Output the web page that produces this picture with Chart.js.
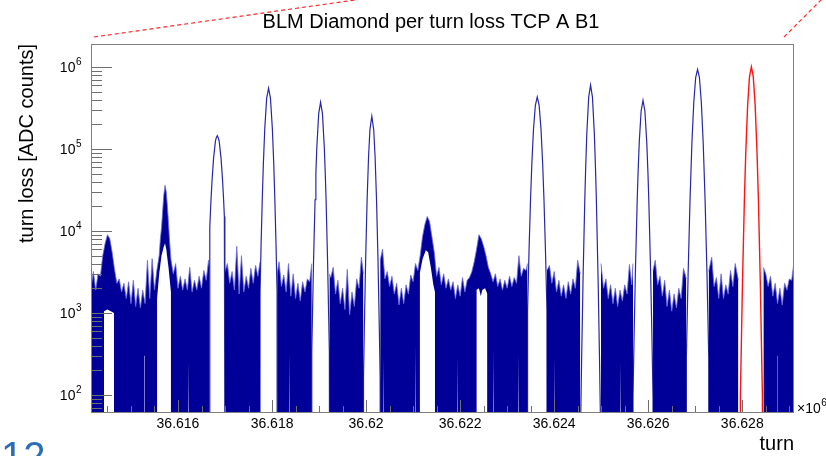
<!DOCTYPE html>
<html>
<head>
<meta charset="utf-8">
<script src="https://cdn.jsdelivr.net/npm/chart.js@4.4.1/dist/chart.umd.min.js"></script>
<style>
  html, body { margin: 0; padding: 0; background: #fff; }
</style>
</head>
<body>
<canvas id="chLoss" width="826" height="456"></canvas>
<script>
/* BLM diamond per turn loss, ROOT style histogram redrawn with chart.js */

// axis ranges and labels
var xMin = 36614150, xMax = 36629100;
var yMin = 62, yMax = 1.9e6;
var xTickStep = 500;
var xLabelTurns = [ 36616000, 36618000, 36620000, 36622000, 36624000, 36626000, 36628000 ];
var xLabels = [ '36.616', '36.618', '36.62', '36.622', '36.624', '36.626', '36.628' ];
var yDecades = [ 1e2, 1e3, 1e4, 1e5, 1e6 ];
var yExponents = [ '2', '3', '4', '5', '6' ];

// noise band (upper envelope of the busy bins), null = empty stretch under a peak
var noiseTurn = [
  36614150, 36614200, 36614250, 36614300, 36614350, 36614400, 36614450, 36614500, 36614550, 36614600, 36614650, 36614700,
  36614750, 36614800, 36614850, 36614900, 36614950, 36615000, 36615050, 36615100, 36615150, 36615200, 36615250, 36615300,
  36615350, 36615400, 36615450, 36615500, 36615550, 36615600, 36615625, 36615650, 36615675, 36615700, 36615725, 36615750,
  36615775, 36615800, 36615825, 36615850, 36615900, 36615950, 36616000, 36616050, 36616100, 36616150, 36616200, 36616250,
  36616300, 36616350, 36616400, 36616450, 36616500, 36616550, 36616600, 36616650, 36616670, 36616671,
  36617000, 36617050, 36617100, 36617150, 36617200, 36617250, 36617300, 36617350, 36617400, 36617450, 36617500, 36617550,
  36617600, 36617650, 36617700, 36617745, 36617746,
  36618110, 36618150, 36618200, 36618250, 36618300, 36618350, 36618400, 36618450, 36618500, 36618550, 36618600, 36618650,
  36618700, 36618750, 36618800, 36618845, 36618846,
  36619220, 36619250, 36619300, 36619350, 36619400, 36619450, 36619500, 36619550, 36619600, 36619650, 36619700, 36619750,
  36619800, 36619850, 36619900, 36619943, 36619944,
  36620300, 36620350, 36620400, 36620450, 36620500, 36620550, 36620600, 36620650, 36620700, 36620750, 36620800, 36620850,
  36620900, 36620950, 36621000, 36621050, 36621100, 36621150, 36621200, 36621250, 36621300, 36621350, 36621400, 36621450,
  36621500, 36621550, 36621600, 36621650, 36621700, 36621750, 36621800, 36621850, 36621900, 36621950, 36622000, 36622050,
  36622100, 36622150, 36622200, 36622250, 36622300, 36622350, 36622400, 36622450, 36622500, 36622550, 36622600, 36622650,
  36622700, 36622750, 36622800, 36622850, 36622900, 36622950, 36623000, 36623050, 36623100, 36623150, 36623200, 36623250,
  36623300, 36623350, 36623400, 36623433, 36623434,
  36623846, 36623900, 36623950, 36624000, 36624050, 36624100, 36624150, 36624200, 36624250, 36624300, 36624350, 36624400,
  36624450, 36624500, 36624555, 36624556,
  36624995, 36625050, 36625100, 36625150, 36625200, 36625250, 36625300, 36625350, 36625400, 36625450, 36625500, 36625550,
  36625600, 36625650, 36625676, 36625677,
  36626102, 36626150, 36626200, 36626250, 36626300, 36626350, 36626400, 36626450, 36626500, 36626550, 36626600, 36626650,
  36626700, 36626750, 36626810, 36626811,
  36627285, 36627350, 36627400, 36627450, 36627500, 36627550, 36627600, 36627650, 36627700, 36627750, 36627800, 36627850,
  36627917, 36627918,
  36628449, 36628500, 36628550, 36628600, 36628650, 36628700, 36628750, 36628800, 36628850, 36628900, 36628950, 36629000,
  36629050, 36629100
];
var noiseLoss = [
  2000, 3200, 1900, 3000, 2800, 5000, 7000, 9000, 8000, 5500, 3400, 2300,
  2600, 1800, 2300, 1500, 2400, 1300, 2500, 1200, 2000, 1150, 1900, 1300,
  4400, 1500, 4600, 1900, 3300, 5000, 8000, 11000, 18000, 28000, 36000, 30000,
  20000, 12000, 7000, 4500, 3000, 4000, 2000, 2800, 1900, 2600, 1900, 3600,
  1800, 2500, 1900, 2800, 2000, 3300, 2500, 4400, 3500, null,
  3200, 4000, 2300, 3200, 1900, 6500, 1700, 5000, 1800, 2800, 2000, 3500,
  2300, 3800, 2800, 4200, null,
  3000, 4200, 2100, 2900, 1800, 4000, 1600, 3000, 1500, 2300, 1400, 2400,
  1800, 2600, 2400, 4000, null,
  3000, 2700, 3600, 1700, 2500, 1300, 2000, 1100, 3400, 950, 1800, 1200,
  2600, 2000, 4800, 3000, null,
  4400, 6000, 2600, 3200, 2100, 2800, 1700, 2300, 1250, 2000, 1300, 2200,
  1700, 2900, 2400, 4000, 3300, 5000, 8500, 12000, 15000, 13000, 8500, 5500,
  2800, 3600, 2200, 3000, 2000, 2600, 1900, 2400, 1500, 2200, 1600, 2700,
  1800, 2500, 2700, 3200, 4200, 6000, 9000, 8000, 6500, 5000, 3600, 3000,
  2400, 3000, 2100, 2600, 1900, 2500, 2000, 2800, 2100, 2700, 2300, 5000,
  2800, 3500, 3300, 4000, null,
  3300, 3800, 2300, 3200, 1800, 2500, 1600, 2200, 1500, 2400, 1700, 2600,
  2000, 4400, 3000, null,
  4000, 2000, 2600, 1500, 2200, 1300, 2000, 1200, 1900, 1400, 2200, 1700,
  3900, 2200, 4000, null,
  3300, 4400, 2200, 2800, 1600, 2500, 1200, 1900, 1050, 1700, 1150, 2000,
  1500, 3500, 2600, null,
  3200, 4800, 2100, 2700, 1500, 3000, 1500, 2200, 1700, 3300, 2100, 4000,
  2500, null,
  3600, 3000, 2100, 2800, 1600, 2300, 1300, 2000, 1250, 2300, 1900, 2600,
  2500, 4200
];

// empty bins inside the noise band (white under the small bumps, thin slivers)
var holeTurn = [
  36614425, 36614500, 36614640, 36614641,
  36615277, 36615292, 36615293,
  36615555, 36615600, 36615650, 36615700, 36615725, 36615750, 36615800, 36615850, 36615851,
  36616213, 36616228, 36616229,
  36618362, 36618377, 36618378,
  36620362, 36620377, 36620378,
  36621043, 36621058, 36621059,
  36621140, 36621200, 36621270, 36621320, 36621380, 36621430, 36621465, 36621466,
  36621937, 36621952, 36621953,
  36622345, 36622400, 36622440, 36622470, 36622530, 36622580, 36622581,
  36622703, 36622718, 36622719,
  36623235, 36623250, 36623251,
  36624001, 36624016, 36624017,
  36625405, 36625420, 36625421,
  36628747, 36628762
];
var holeLoss = [
  1050, 1100, 1000, null,
  300, 300, null,
  1500, 3000, 5000, 6500, 7000, 6000, 3500, 1800, null,
  250, 250, null,
  330, 330, null,
  300, 300, null,
  400, 400, null,
  3000, 4500, 5800, 5500, 3500, 2200, 1800, null,
  300, 300, null,
  1900, 2000, 1600, 1900, 2000, 1700, null,
  350, 350, null,
  300, 300, null,
  300, 300, null,
  250, 250, null,
  300, 300
];

// the big blue loss peaks
var blueTurn = [
  36616674, 36616676, 36616686, 36616702, 36616726, 36616756, 36616796, 36616816, 36616836, 36616856, 36616876, 36616916,
  36616946, 36616970, 36616986, 36616996, 36616998, 36616999,
  36617743, 36617745, 36617766, 36617792, 36617816, 36617846, 36617886, 36617926, 36617966, 36618006, 36618036, 36618060,
  36618086, 36618107, 36618109, 36618110,
  36618842, 36618845, 36618882, 36618915, 36618932, 36618952, 36618992, 36619032, 36619072, 36619112, 36619132, 36619149,
  36619182, 36619219, 36619222, 36619223,
  36619942, 36619945, 36619962, 36619992, 36620022, 36620052, 36620082, 36620122, 36620162, 36620192, 36620222, 36620252,
  36620282, 36620299, 36620302, 36620303,
  36623432, 36623434, 36623465, 36623497, 36623525, 36623560, 36623600, 36623640, 36623680, 36623720, 36623755, 36623783,
  36623815, 36623846, 36623848, 36623849,
  36624553, 36624566, 36624584, 36624614, 36624651, 36624669, 36624694, 36624734, 36624774, 36624814, 36624854, 36624879,
  36624897, 36624934, 36624964, 36624982, 36624995, 36624996,
  36625674, 36625676, 36625699, 36625729, 36625766, 36625784, 36625809, 36625849, 36625889, 36625929, 36625969, 36625994,
  36626012, 36626049, 36626079, 36626102, 36626104, 36626105,
  36626809, 36626811, 36626849, 36626889, 36626929, 36626969, 36627009, 36627049, 36627089, 36627129, 36627169, 36627209,
  36627249, 36627287, 36627289
];
var blueLoss = [
  20, 11000, 15000, 24000, 43000, 76000, 124000, 138000, 145000, 136000, 124000, 76000,
  43000, 24000, 15000, 11000, 20, null,
  20, 1800, 6300, 24000, 67000, 180000, 416000, 550000, 416000, 180000, 67000, 24000,
  6300, 1800, 20, null,
  20, 340, 4100, 24000, 50000, 103000, 269000, 370000, 269000, 103000, 50000, 24000,
  4100, 340, 20, null,
  20, 160, 620, 4800, 24000, 79000, 172000, 250000, 172000, 79000, 24000, 4800,
  620, 160, 20, null,
  20, 1070, 5700, 24000, 66000, 174000, 340000, 430000, 340000, 174000, 66000, 24000,
  5700, 1070, 20, null,
  20, 60, 276, 2600, 24000, 57000, 154000, 427000, 600000, 427000, 154000, 57000,
  24000, 2600, 276, 60, 20, null,
  20, 92, 505, 3500, 24000, 51000, 120000, 290000, 390000, 290000, 120000, 51000,
  24000, 3500, 505, 92, 20, null,
  20, 286, 3100, 24000, 119000, 370000, 740000, 930000, 740000, 370000, 119000, 24000,
  3100, 286, 20
];

// highlighted (red) peak
var redTurn = [ 36627958, 36627960, 36628004, 36628045, 36628074, 36628114, 36628154, 36628194, 36628234, 36628274, 36628314, 36628343, 36628384, 36628428, 36628430 ];
var redLoss = [ 20, 100, 2300, 24000, 89000, 340000, 760000, 1000000, 760000, 340000, 89000, 24000, 2300, 100, 20 ];

var fontFam = '"Liberation Sans", Arial, Helvetica, sans-serif';
Chart.defaults.font.family = fontFam;

function pts(turns, loss) {
	return turns.map(function (t, i) { return { x: t, y: loss[i] }; });
}

// ROOT like frame + inner tick marks + extra texts
var rootFrame = {
	id: 'rootFrame',
	afterDatasetsDraw: function (chart) {
		var ctx = chart.ctx, ca = chart.chartArea;
		var xs = chart.scales.x, ys = chart.scales.y;
		ctx.save();
		ctx.strokeStyle = '#6e6e6e';
		ctx.lineWidth = 1;
		ctx.beginPath();
		// y ticks, inside the frame
		[ 10 ].concat(yDecades).forEach(function (d) {
			for (var m = 1; m <= 9; m++) {
				var v = d * m;
				if (v < yMin || v > yMax) continue;
				var py = Math.round(ys.getPixelForValue(v)) + 0.5;
				ctx.moveTo(ca.left, py);
				ctx.lineTo(ca.left + (m === 1 ? 21 : 11), py);
			}
		});
		// x ticks
		xs.ticks.forEach(function (t) {
			var px = Math.round(xs.getPixelForValue(t.value)) + 0.5;
			ctx.moveTo(px, ca.bottom);
			ctx.lineTo(px, ca.bottom - (xLabelTurns.indexOf(t.value) >= 0 ? 12 : 6));
		});
		ctx.stroke();
		ctx.strokeStyle = '#808080';
		ctx.strokeRect(ca.left + 0.5, ca.top + 0.5, ca.right - ca.left - 1, ca.bottom - ca.top);
		ctx.restore();
	},
	afterDraw: function (chart) {
		var ctx = chart.ctx, ca = chart.chartArea, ys = chart.scales.y;
		ctx.save();
		ctx.fillStyle = '#000';
		// title
		ctx.font = '20px ' + fontFam;
		ctx.textAlign = 'center';
		ctx.textBaseline = 'alphabetic';
		ctx.fillText('BLM Diamond per turn loss TCP A B1', 431, 28);
		// y labels 10^n
		ctx.textAlign = 'left';
		yDecades.forEach(function (d, i) {
			var py = ys.getPixelForValue(d);
			ctx.font = '10px ' + fontFam;
			var we = ctx.measureText(yExponents[i]).width;
			ctx.font = '14px ' + fontFam;
			var wb = ctx.measureText('10').width;
			var x0 = ca.left - 10 - we - wb;
			ctx.fillText('10', x0, py + 5);
			ctx.font = '10px ' + fontFam;
			ctx.fillText(yExponents[i], x0 + wb + 0.5, py - 2);
		});
		// x10^6 multiplier
		ctx.font = '14px ' + fontFam;
		var wm = ctx.measureText('\u00d710').width;
		ctx.fillText('\u00d710', ca.right + 3, ca.bottom + 1);
		ctx.font = '10px ' + fontFam;
		ctx.fillText('6', ca.right + 3 + wm + 0.5, ca.bottom - 6);
		// slide number peeking in at the bottom
		ctx.fillStyle = '#2d6db3';
		ctx.font = '40px ' + fontFam;
		ctx.fillText('12', 1, 470);
		// red dashed zoom lines
		ctx.strokeStyle = '#ff2a2a';
		ctx.lineWidth = 1.2;
		ctx.setLineDash([ 4, 3 ]);
		ctx.beginPath();
		ctx.moveTo(94, 37);
		ctx.lineTo(362, -1);
		ctx.moveTo(784, 37);
		ctx.lineTo(822, -1);
		ctx.stroke();
		ctx.restore();
	}
};

var chLoss = document.getElementById('chLoss');
new Chart(chLoss, {
	type: 'line',
	data: {
		datasets: [
			{
				label: 'selected',
				data: pts(redTurn, redLoss),
				borderColor: '#ff1414',
				borderWidth: 1.4,
				fill: false,
				order: 0
			},
			{
				label: 'peaks',
				data: pts(blueTurn, blueLoss),
				borderColor: 'rgba(0,0,153,0.85)',
				borderWidth: 1.2,
				fill: false,
				order: 1
			},
			{
				label: 'empty',
				data: pts(holeTurn, holeLoss),
				borderColor: 'rgba(0,0,0,0)',
				borderWidth: 1,
				backgroundColor: '#ffffff',
				fill: 'start',
				order: 2
			},
			{
				label: 'noise',
				data: pts(noiseTurn, noiseLoss),
				borderColor: 'rgba(110,110,215,0.8)',
				borderWidth: 1,
				backgroundColor: '#000099',
				fill: 'start',
				order: 3
			}
		]
	},
	options: {
		responsive: false,
		animation: false,
		devicePixelRatio: 1,
		spanGaps: false,
		layout: { padding: { top: 44, right: 32, bottom: 0, left: 0 } },
		elements: { point: { radius: 0 }, line: { tension: 0 } },
		plugins: { legend: { display: false }, tooltip: { enabled: false } },
		scales: {
			x: {
				type: 'linear',
				min: xMin,
				max: xMax,
				grid: { display: false },
				border: { display: false },
				afterBuildTicks: function (s) {
					// ROOT style: tick every 500 turns, label every 2000
					var first = Math.ceil(xMin / xTickStep) * xTickStep;
					var list = [];
					for (var v = first; v <= xMax; v += xTickStep) list.push({ value: v });
					s.ticks = list;
				},
				ticks: {
					autoSkip: false,
					maxRotation: 0,
					padding: -4,
					color: '#000',
					font: { size: 14 },
					callback: function (v) {
						var i = xLabelTurns.indexOf(v);
						return i >= 0 ? xLabels[i] : '';
					}
				},
				title: { display: true, text: 'turn', align: 'end', color: '#000', font: { size: 20 }, padding: { top: 0, bottom: 0 } },
				afterFit: function (s) { s.height = 44; }
			},
			y: {
				type: 'logarithmic',
				min: yMin,
				max: yMax,
				grid: { display: false },
				border: { display: false },
				ticks: { display: false },
				title: { display: true, text: 'turn loss [ADC counts]', align: 'end', color: '#000', font: { size: 20 }, padding: { top: 15.5, bottom: 0 } },
				afterFit: function (s) { s.width = 91; }
			}
		}
	},
	plugins: [ rootFrame ]
});
</script>
</body>
</html>
